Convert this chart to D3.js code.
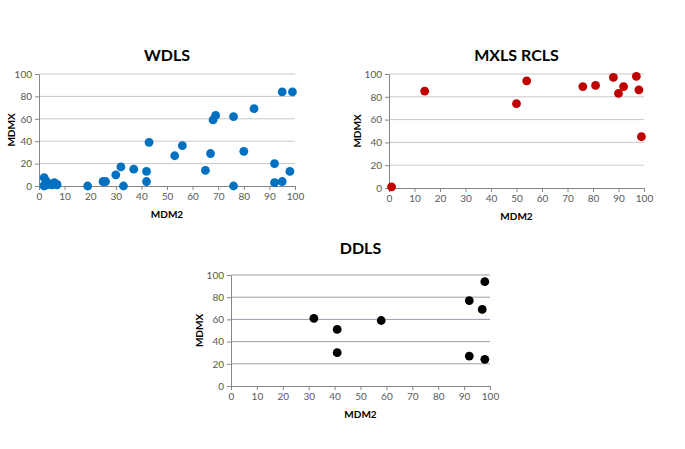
<!DOCTYPE html>
<html><head><meta charset="utf-8">
<script src="https://cdn.jsdelivr.net/npm/d3@7"></script>
<style>
body{margin:0;background:#fff;}
text{font-family:Lato,"Liberation Sans",Arial,sans-serif;}
</style></head>
<body><svg id="c" width="685" height="449"></svg>
<script>
const ticks = [0,10,20,30,40,50,60,70,80,90,100];
const yTicks = [0,20,40,60,80,100];
const titles = ["WDLS","MXLS RCLS","DDLS"];
const xLabel = "MDM2";
const yLabel = "MDMX";

const wdlsX = [2,2,2,3,3,4,5,6,7,7,19,25,26,30,32,33,37,42,42,43,53,56,65,67,68,69,76,76,80,84,92,92,95,95,98,99];
const wdlsY = [7.5,0.5,0,4,1,1.5,1,3,1.5,1,0,4,4,10,17,0,15,13,4,39,27,36,14,29,59,63,62,0,31,69,20,3,84,4,13,84];

const mxlsX = [1,14,50,54,76,81,88,90,92,97,98,99];
const mxlsY = [1,85,74,94,89,90,97,83,89,98,86,45];

const ddlsX = [32,41,41,58,92,97,98,92,98];
const ddlsY = [61,51,30,59,77,69,94,27,24];

const colors = ["#0070c0","#c00000","#000000"];
const gridColors = ["#c8c8c8","#c8c8c8","#9a9eaa"];

const svg = d3.select("#c");

const panels = [
  {x0:39, x1:295, y0:186, y1:74, titleY:61, xs:wdlsX, ys:wdlsY, ylabX:11},
  {x0:389, x1:644, y0:188, y1:74, titleY:61, xs:mxlsX, ys:mxlsY, ylabX:357},
  {x0:231, x1:490, y0:386, y1:275, titleY:254, xs:ddlsX, ys:ddlsY, ylabX:199}
];

panels.forEach((p,i)=>{
  const x = d3.scaleLinear().domain([0,100]).range([p.x0,p.x1]);
  const y = d3.scaleLinear().domain([0,100]).range([p.y0,p.y1]);
  const g = svg.append("g");
  g.selectAll("line.grid").data(yTicks.filter(t=>t>0)).enter().append("line")
    .attr("x1",p.x0).attr("x2",p.x1).attr("y1",d=>y(d)).attr("y2",d=>y(d))
    .attr("stroke",gridColors[i]).attr("stroke-width",1);
  const ya = g.append("g").attr("transform",`translate(${p.x0},0)`)
    .call(d3.axisLeft(y).tickValues(yTicks).tickSize(4).tickSizeOuter(0));
  const xa = g.append("g").attr("transform",`translate(0,${p.y0})`)
    .call(d3.axisBottom(x).tickValues(ticks).tickSize(4).tickSizeOuter(0));
  [ya,xa].forEach(a=>{
    a.select(".domain").attr("stroke","#868686");
    a.selectAll(".tick line").attr("stroke","#868686");
    a.selectAll(".tick text").attr("fill","#595959").attr("font-size","10px")
      .style("font-family","Lato, 'Liberation Sans', Arial, sans-serif");
  });
  ya.selectAll(".tick text").attr("x",-7);
  xa.selectAll(".tick text").attr("y",7);
  g.append("text").attr("x",(p.x0+p.x1)/2).attr("y",p.titleY).attr("text-anchor","middle")
    .attr("font-size","16px").attr("font-weight","bold").attr("fill","#000").text(titles[i]);
  g.append("text").attr("x",(p.x0+p.x1)/2).attr("y",p.y0+32).attr("text-anchor","middle")
    .attr("font-size","10px").attr("font-weight","bold").attr("fill","#000").text(xLabel);
  g.append("text").attr("transform",`translate(${p.ylabX},${(p.y0+p.y1)/2}) rotate(-90)`)
    .attr("text-anchor","middle").attr("dy","0.35em")
    .attr("font-size","10px").attr("font-weight","bold").attr("fill","#000").text(yLabel);
  g.selectAll("circle").data(p.xs.map((v,k)=>[v,p.ys[k]])).enter().append("circle")
    .attr("cx",d=>x(d[0])).attr("cy",d=>y(d[1])).attr("r",4.4)
    .attr("fill",colors[i]);
});
</script></body></html>
